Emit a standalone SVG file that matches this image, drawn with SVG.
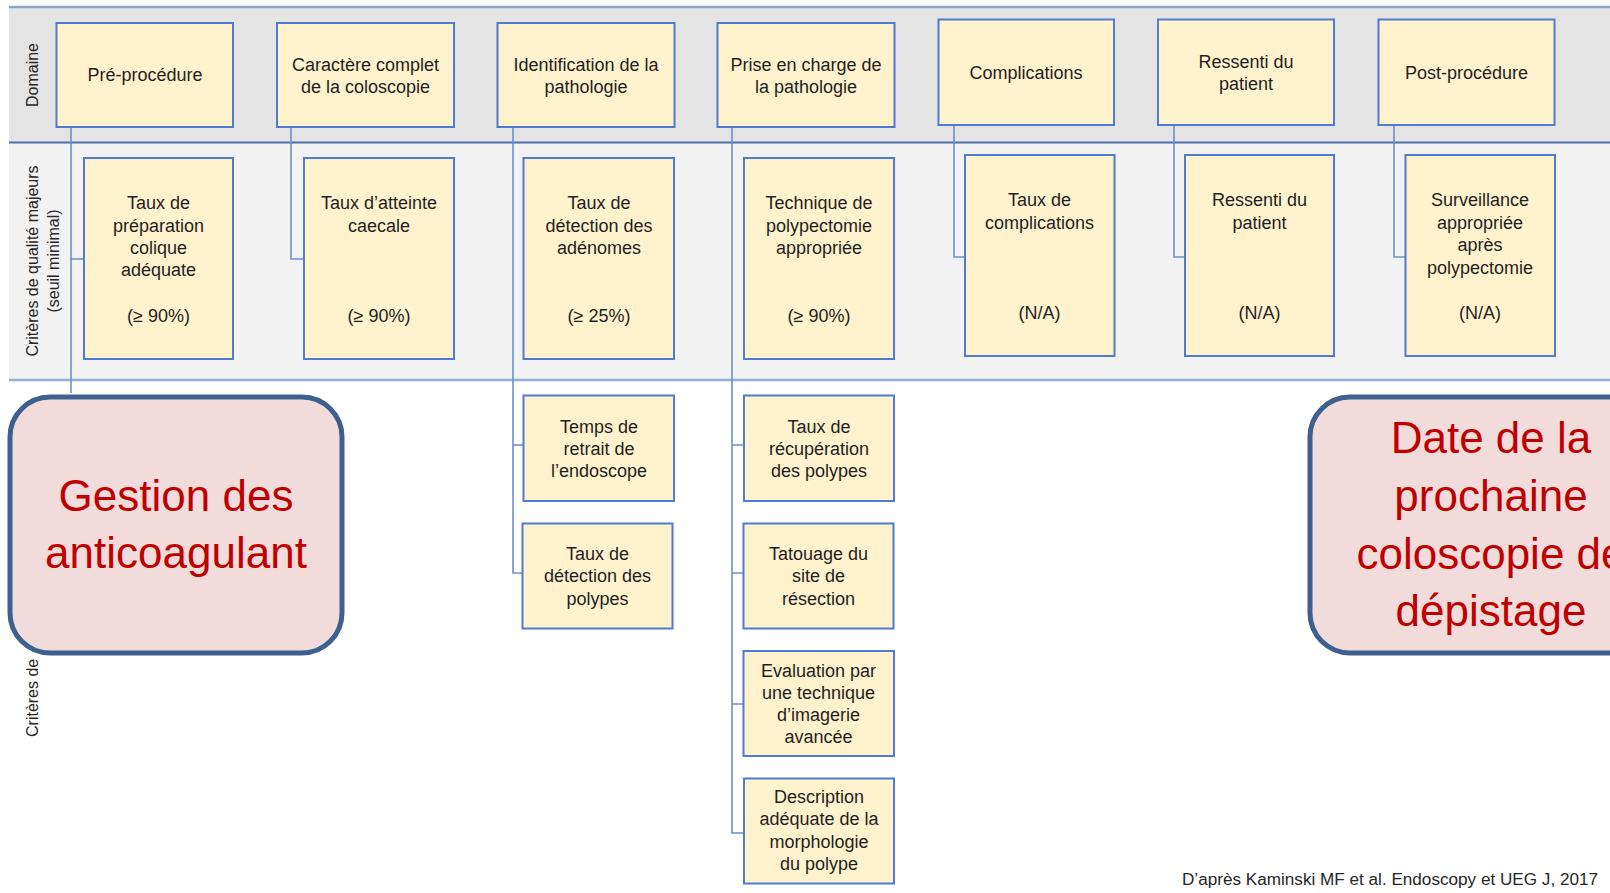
<svg xmlns="http://www.w3.org/2000/svg" width="1610" height="893" viewBox="0 0 1610 893">
<style>
.t{font-family:"Liberation Sans",Arial,sans-serif;font-size:18px;fill:#1f1f1f;text-anchor:middle}
.lbl{font-family:"Liberation Sans",Arial,sans-serif;font-size:16px;fill:#262626;text-anchor:middle}
.box{fill:#fff2cc;stroke:#4f7bd0;stroke-width:2}
.big{fill:#f2dcdb;stroke:#3d6090;stroke-width:5}
.bt{font-family:"Liberation Sans",Arial,sans-serif;font-size:44px;fill:#c00000;text-anchor:middle}
.c{fill:none;stroke:#6a8fd3;stroke-width:1.6}
</style>
<rect width="1610" height="893" fill="#ffffff"/>
<g id="bands">
<rect x="9" y="7" width="1601" height="135" fill="#e4e4e4"/>
<rect x="9" y="143" width="1601" height="237" fill="#f2f2f2"/>
<line x1="9" y1="7" x2="1610" y2="7" stroke="#8ea3c9" stroke-width="2.5"/>
<line x1="9" y1="142.5" x2="1610" y2="142.5" stroke="#4e6fa9" stroke-width="2"/>
<line x1="9" y1="380" x2="1610" y2="380" stroke="#98add2" stroke-width="2.5"/>
<text class="lbl" transform="translate(38 75) rotate(-90)">Domaine</text>
<text class="lbl" transform="translate(38 261) rotate(-90)">Critères de qualité majeurs</text>
<text class="lbl" transform="translate(59 261) rotate(-90)">(seuil minimal)</text>
<text class="lbl" style="text-anchor:start" transform="translate(38 737) rotate(-90)">Critères de</text>
</g>
<g id="connectors">
<path class="c" d="M71 127V393"/>
<path class="c" d="M71 259H84"/>
<path class="c" d="M291 127V259H304"/>
<path class="c" d="M513 127V573H523"/>
<path class="c" d="M513 445H523"/>
<path class="c" d="M732 127V833H744"/>
<path class="c" d="M732 445H744M732 573H743M732 704H743"/>
<path class="c" d="M954 125V257H965"/>
<path class="c" d="M1174 125V257H1185"/>
<path class="c" d="M1394 125V257H1405"/>
</g>
<g id="d1"><rect class="box" x="56.5" y="23" width="176.5" height="104"/><text class="t" x="145" y="81">Pré-procédure</text></g>
<g id="d2"><rect class="box" x="277" y="23" width="177" height="104"/><text class="t" x="365.5" y="71">Caractère complet</text><text class="t" x="365.5" y="92.5">de la coloscopie</text></g>
<g id="d3"><rect class="box" x="497.5" y="23" width="177" height="104"/><text class="t" x="586" y="71">Identification de la</text><text class="t" x="586" y="92.5">pathologie</text></g>
<g id="d4"><rect class="box" x="717.5" y="23" width="177" height="104"/><text class="t" x="806" y="71">Prise en charge de</text><text class="t" x="806" y="92.5">la pathologie</text></g>
<g id="d5"><rect class="box" x="938.5" y="19.5" width="175.5" height="105.5"/><text class="t" x="1026" y="79">Complications</text></g>
<g id="d6"><rect class="box" x="1158" y="19.5" width="176" height="105.5"/><text class="t" x="1246" y="68">Ressenti du</text><text class="t" x="1246" y="90">patient</text></g>
<g id="d7"><rect class="box" x="1378.5" y="19.5" width="176" height="105.5"/><text class="t" x="1466.5" y="79">Post-procédure</text></g>

<g id="m1"><rect class="box" x="84" y="158" width="149" height="201"/><text class="t" x="158.5" y="209">Taux de</text><text class="t" x="158.5" y="231.5">préparation</text><text class="t" x="158.5" y="254">colique</text><text class="t" x="158.5" y="276">adéquate</text><text class="t" x="158.5" y="322">(≥ 90%)</text></g>
<g id="m2"><rect class="box" x="304" y="158" width="150" height="201"/><text class="t" x="379" y="209">Taux d’atteinte</text><text class="t" x="379" y="231.5">caecale</text><text class="t" x="379" y="322">(≥ 90%)</text></g>
<g id="m3"><rect class="box" x="523.5" y="158" width="150.5" height="201"/><text class="t" x="599" y="209">Taux de</text><text class="t" x="599" y="231.5">détection des</text><text class="t" x="599" y="254">adénomes</text><text class="t" x="599" y="322">(≥ 25%)</text></g>
<g id="m4"><rect class="box" x="744" y="158" width="150" height="201"/><text class="t" x="819" y="209">Technique de</text><text class="t" x="819" y="231.5">polypectomie</text><text class="t" x="819" y="254">appropriée</text><text class="t" x="819" y="322">(≥ 90%)</text></g>
<g id="m5"><rect class="box" x="965" y="155" width="149.5" height="201"/><text class="t" x="1039.5" y="206">Taux de</text><text class="t" x="1039.5" y="228.5">complications</text><text class="t" x="1039.5" y="319">(N/A)</text></g>
<g id="m6"><rect class="box" x="1185" y="155" width="149" height="201"/><text class="t" x="1259.5" y="206">Ressenti du</text><text class="t" x="1259.5" y="228.5">patient</text><text class="t" x="1259.5" y="319">(N/A)</text></g>
<g id="m7"><rect class="box" x="1405.5" y="155" width="149.5" height="201"/><text class="t" x="1480" y="206">Surveillance</text><text class="t" x="1480" y="228.5">appropriée</text><text class="t" x="1480" y="251">après</text><text class="t" x="1480" y="273.5">polypectomie</text><text class="t" x="1480" y="319">(N/A)</text></g>

<g id="s1"><rect class="box" x="523.5" y="395.5" width="150.5" height="105.5"/><text class="t" x="599" y="432.5">Temps de</text><text class="t" x="599" y="455">retrait de</text><text class="t" x="599" y="477">l’endoscope</text></g>
<g id="s2"><rect class="box" x="522.5" y="523.5" width="150" height="105"/><text class="t" x="597.5" y="560">Taux de</text><text class="t" x="597.5" y="582">détection des</text><text class="t" x="597.5" y="605">polypes</text></g>
<g id="s3"><rect class="box" x="744" y="395.5" width="150" height="105.5"/><text class="t" x="819" y="432.5">Taux de</text><text class="t" x="819" y="455">récupération</text><text class="t" x="819" y="477">des polypes</text></g>
<g id="s4"><rect class="box" x="743.5" y="523.5" width="150" height="105"/><text class="t" x="818.5" y="560">Tatouage du</text><text class="t" x="818.5" y="582">site de</text><text class="t" x="818.5" y="605">résection</text></g>
<g id="s5"><rect class="box" x="743.5" y="651" width="150.5" height="105"/><text class="t" x="818.5" y="676.5">Evaluation par</text><text class="t" x="818.5" y="698.5">une technique</text><text class="t" x="818.5" y="721">d’imagerie</text><text class="t" x="818.5" y="743">avancée</text></g>
<g id="s6"><rect class="box" x="744" y="778.5" width="150" height="105"/><text class="t" x="819" y="803">Description</text><text class="t" x="819" y="825">adéquate de la</text><text class="t" x="819" y="848">morphologie</text><text class="t" x="819" y="870">du polype</text></g>

<g id="gestion"><rect class="big" x="10" y="397" width="332" height="256" rx="40"/><text class="bt" x="176" y="511">Gestion des</text><text class="bt" x="176" y="568">anticoagulant</text></g>
<g id="date"><rect class="big" x="1310" y="397" width="380" height="256" rx="40"/><text class="bt" x="1491" y="453">Date de la</text><text class="bt" x="1491" y="511">prochaine</text><text class="bt" x="1491" y="569">coloscopie de</text><text class="bt" x="1491" y="626">dépistage</text></g>
<text class="lbl" style="text-anchor:start" x="1182" y="885" textLength="416" lengthAdjust="spacingAndGlyphs">D’après Kaminski MF et al. Endoscopy et UEG J, 2017</text>
</svg>
